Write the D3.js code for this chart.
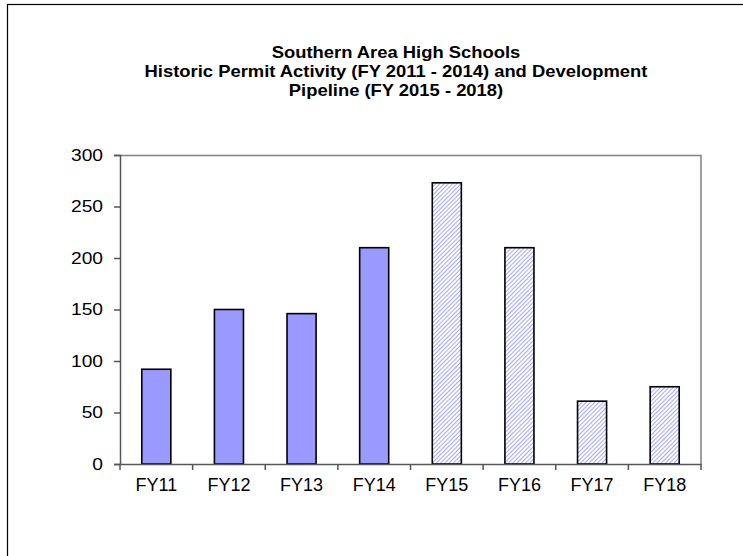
<!DOCTYPE html>
<html>
<head>
<meta charset="utf-8">
<script src="https://cdn.jsdelivr.net/npm/d3@7"></script>
<style>
  body { margin: 0; background: #fff; }
  svg { display: block; font-family: "Liberation Sans", Arial, sans-serif; }
</style>
</head>
<body>
<div id="chart"></div>
<script>
// Chart values
const years = ["FY11", "FY12", "FY13", "FY14", "FY15", "FY16", "FY17", "FY18"];
const permits = [92, 150, 146, 210, 273, 210, 61, 75];
// FY11-14 are historic permits, FY15-18 are pipeline
const isPipeline = [false, false, false, false, true, true, true, true];
const yTicks = [0, 50, 100, 150, 200, 250, 300];
const titleLines = [
    "Southern Area High Schools",
    "Historic Permit Activity (FY 2011 - 2014) and Development",
    "Pipeline (FY 2015 - 2018)"
];

const W = 743, H = 556;
const margin = { top: 155, right: 42, bottom: 92, left: 120 };
const width = W - margin.left - margin.right;
const height = H - margin.top - margin.bottom;

const svg = d3.select("#chart")
    .append("svg")
    .attr("width", W)
    .attr("height", H);

// hatch pattern for pipeline bars
svg.append("defs").append("pattern")
    .attr("id", "hatch")
    .attr("patternUnits", "userSpaceOnUse")
    .attr("width", 3)
    .attr("height", 3)
    .attr("patternTransform", "rotate(45)")
    .call(p => {
        p.append("rect").attr("width", 3).attr("height", 3).attr("fill", "#fff");
        p.append("line")
            .attr("x1", 0.5).attr("y1", 0).attr("x2", 0.5).attr("y2", 3)
            .attr("stroke", "#a8a8ff")
            .attr("stroke-width", 1.1);
    });

// outer chart border (runs off the right and bottom edge)
svg.append("rect")
    .attr("x", 7.5)
    .attr("y", 4.5)
    .attr("width", 800)
    .attr("height", 600)
    .attr("fill", "none")
    .attr("stroke", "#000")
    .attr("stroke-width", 1.2);

// title (the original text is a little wider than Liberation Sans)
svg.append("text")
    .attr("transform", "translate(396,0) scale(1.15,1)")
    .attr("text-anchor", "middle")
    .attr("font-weight", "bold")
    .attr("font-size", "16px")
    .attr("fill", "#000")
    .selectAll("tspan")
    .data(titleLines)
    .enter()
    .append("tspan")
    .attr("x", 0)
    .attr("y", (d, i) => 58.5 + i * 19)
    .text(d => d);

const g = svg.append("g")
    .attr("transform", `translate(${margin.left},${margin.top})`);

const x = d3.scaleBand()
    .domain(years)
    .range([0, width])
    .paddingInner(0.6)
    .paddingOuter(0.3);

const y = d3.scaleLinear()
    .domain([0, 300])
    .range([height, 0]);

// plot area frame: top and right in grey
g.append("path")
    .attr("d", `M0,0.5H${width}V${height}`)
    .attr("fill", "none")
    .attr("stroke", "#808080")
    .attr("stroke-width", 1.5);

// bars
g.selectAll("rect.bar")
    .data(years)
    .enter()
    .append("rect")
    .attr("class", "bar")
    .attr("x", d => x(d))
    .attr("y", (d, i) => y(permits[i]))
    .attr("width", x.bandwidth())
    .attr("height", (d, i) => y(0) - y(permits[i]))
    .attr("fill", (d, i) => isPipeline[i] ? "url(#hatch)" : "#9999ff")
    .attr("stroke", "#000")
    .attr("stroke-width", 1.6);

// y axis
const yScaleX = 1.2;
const yAxis = g.append("g")
    .call(d3.axisLeft(y).tickValues(yTicks).tickSize(6).tickPadding(11));
yAxis.selectAll("text")
    .attr("font-size", "16px")
    .attr("fill", "#000")
    .attr("font-family", null)
    .attr("x", -17 / yScaleX)
    .attr("transform", `scale(${yScaleX},1)`);
yAxis.selectAll("line, path").attr("stroke", "#555").attr("stroke-width", 1.5);

// x axis: ticks sit between categories
const step = x.step();
const xAxis = g.append("g")
    .attr("transform", `translate(0,${height})`)
    .call(d3.axisBottom(x).tickSize(0).tickPadding(14));
xAxis.select(".domain").attr("stroke", "#555").attr("stroke-width", 1.5);
xAxis.selectAll("text").attr("font-size", "18px").attr("fill", "#000").attr("font-family", null);
xAxis.selectAll("line.sep")
    .data(d3.range(years.length + 1))
    .enter()
    .append("line")
    .attr("class", "sep")
    .attr("x1", i => i * step)
    .attr("x2", i => i * step)
    .attr("y1", 0)
    .attr("y2", 6)
    .attr("stroke", "#555")
    .attr("stroke-width", 1.5);
</script>
</body>
</html>
